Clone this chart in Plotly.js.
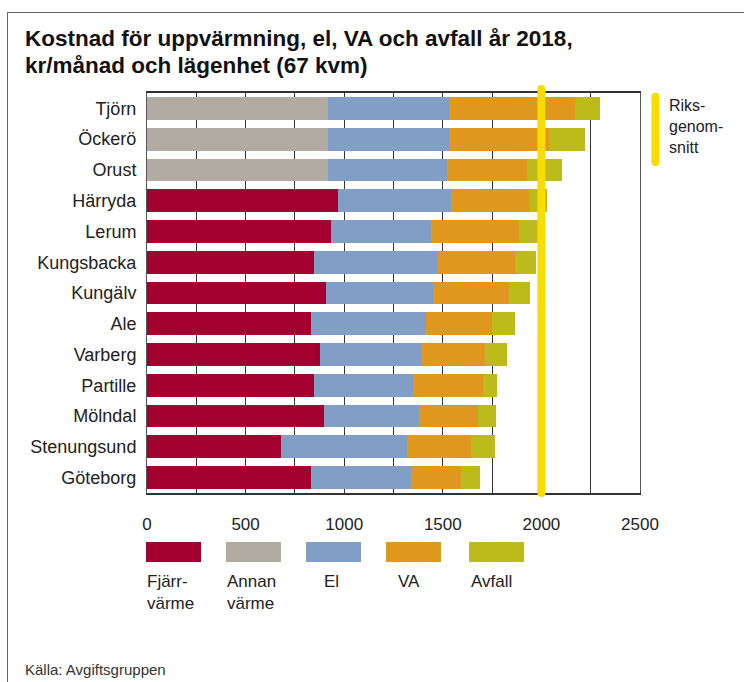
<!DOCTYPE html>
<html>
<head>
<meta charset="utf-8">
<script src="https://cdn.plot.ly/plotly-3.0.1.min.js"></script>
<style>
  html, body { margin: 0; padding: 0; background: #ffffff; }
  #frame { position: absolute; left: 7px; top: 12px; width: 900px; height: 900px;
           border-left: 1px solid #666; border-top: 1px solid #666; }
  #chart { position: absolute; left: 0; top: 0; width: 744px; height: 682px; }
</style>
</head>
<body>
<div id="frame"></div>
<div id="chart"></div>
<script>
// ---- data (kr/månad och lägenhet, 2018) ----
const categories = ['Tjörn','Öckerö','Orust','Härryda','Lerum','Kungsbacka','Kungälv','Ale','Varberg','Partille','Mölndal','Stenungsund','Göteborg'];
const fjarrvarme = [0, 0, 0, 967, 932, 846, 907, 831, 876, 846, 897, 679, 831];
const annanVarme = [917, 917, 917, 0, 0, 0, 0, 0, 0, 0, 0, 0, 0];
const el =         [612, 612, 605, 575, 509, 632, 541, 586, 521, 504, 484, 637, 506];
const va =         [642, 509, 406, 396, 447, 389, 389, 334, 318, 356, 300, 329, 253];
const avfall =     [126, 184, 175, 88, 100, 106, 106, 116, 111, 71, 91, 121, 101];
const riksgenomsnitt = 2000;
const xTicks = [0, 500, 1000, 1500, 2000, 2500];
const seriesNames = ['Fjärr-<br>värme', 'Annan<br>värme', 'El', 'VA', 'Avfall'];

const colors = ['#a3002f', '#b2aba2', '#819fc6', '#df981b', '#bdba1c'];
const yellow = '#f7dc00';
const FONT = 'Liberation Sans, Arial, sans-serif';

const seriesValues = [fjarrvarme, annanVarme, el, va, avfall];
const traces = seriesValues.map((vals, i) => ({
  type: 'bar', orientation: 'h', y: categories, x: vals,
  name: seriesNames[i].replace('<br>', ''), marker: { color: colors[i], line: { width: 0 } },
  hoverinfo: 'x+y'
}));

// Legend (drawn manually below the chart)
const legBoxX = [[-0.002, 0.1095], [0.1602, 0.2718], [0.3225, 0.4341], [0.4848, 0.5963], [0.6531, 0.7647]];
const legTextX = [-0.004, 0.158, 0.355, 0.505, 0.653];
const shapes = [];
const annotations = [];
legBoxX.forEach((bx, i) => {
  shapes.push({ type: 'rect', xref: 'paper', yref: 'paper', x0: bx[0], x1: bx[1], y0: -0.1225, y1: -0.1725,
    fillcolor: colors[i], line: { width: 0 } });
  annotations.push({ xref: 'paper', yref: 'paper', x: legTextX[i], y: -0.193, xanchor: 'left', yanchor: 'top',
    align: 'left', showarrow: false, text: seriesNames[i], font: { family: FONT, size: 17, color: '#222' } });
});

// Riksgenomsnitt line in the chart
const capX = 20.2, capY = 0.01;
shapes.push({ type: 'line', xref: 'x', yref: 'paper', x0: riksgenomsnitt, x1: riksgenomsnitt, y0: 0, y1: 1.01,
  line: { color: yellow, width: 8 }, layer: 'above' });
shapes.push({ type: 'circle', xref: 'x', yref: 'paper', x0: riksgenomsnitt - capX, x1: riksgenomsnitt + capX,
  y0: 1.01 - capY, y1: 1.01 + capY, fillcolor: yellow, line: { width: 0 }, layer: 'above' });
shapes.push({ type: 'circle', xref: 'x', yref: 'paper', x0: riksgenomsnitt - capX, x1: riksgenomsnitt + capX,
  y0: -capY, y1: capY, fillcolor: yellow, line: { width: 0 }, layer: 'above' });

// Riksgenomsnitt legend line
shapes.push({ type: 'line', xref: 'paper', yref: 'paper', x0: 1.0314, x1: 1.0314, y0: 0.8275, y1: 0.9907,
  line: { color: yellow, width: 8 } });
shapes.push({ type: 'circle', xref: 'paper', yref: 'paper', x0: 1.0314 - 0.0081, x1: 1.0314 + 0.0081,
  y0: 0.9907 - 0.01, y1: 0.9907 + 0.01, fillcolor: yellow, line: { width: 0 } });
shapes.push({ type: 'circle', xref: 'paper', yref: 'paper', x0: 1.0314 - 0.0081, x1: 1.0314 + 0.0081,
  y0: 0.8275 - 0.01, y1: 0.8275 + 0.01, fillcolor: yellow, line: { width: 0 } });
annotations.push({ xref: 'paper', yref: 'paper', x: 1.054, y: 0.995, xanchor: 'left', yanchor: 'top', align: 'left',
  showarrow: false, text: 'Riks-<br>genom-<br>snitt', font: { family: FONT, size: 16, color: '#222' } });

// Title lines
annotations.push({ xref: 'paper', yref: 'paper', x: -0.2525, y: 1.1375, xanchor: 'left', yanchor: 'middle',
  showarrow: false, text: '<b>Kostnad för uppvärmning, el, VA och avfall år 2018,</b>',
  font: { family: FONT, size: 22.5, color: '#111' } });
annotations.push({ xref: 'paper', yref: 'paper', x: -0.2525, y: 1.068, xanchor: 'left', yanchor: 'middle',
  showarrow: false, text: '<b>kr/månad och lägenhet (67 kvm)</b>',
  font: { family: FONT, size: 22.5, color: '#111' } });

// Source
annotations.push({ xref: 'paper', yref: 'paper', x: -0.2515, y: -0.44, xanchor: 'left', yanchor: 'middle',
  showarrow: false, text: 'Källa: Avgiftsgruppen', font: { family: FONT, size: 15, color: '#333' } });

const layout = {
  width: 744, height: 682,
  margin: { l: 147, r: 104, t: 93, b: 189, pad: 0 },
  paper_bgcolor: 'rgba(0,0,0,0)', plot_bgcolor: '#ffffff',
  barmode: 'stack', bargap: 0.26,
  showlegend: false,
  font: { family: FONT, color: '#222' },
  xaxis: {
    range: [0, 2500], tickvals: xTicks, ticktext: xTicks.map(String),
    showgrid: true, gridcolor: '#333', gridwidth: 1,
    minor: { dtick: 250, tick0: 0, showgrid: true, gridcolor: '#333', gridwidth: 1 },
    showline: true, linecolor: '#333', linewidth: 2, mirror: true,
    zeroline: false, ticks: '', ticklabelstandoff: 15,
    tickfont: { family: FONT, size: 17, color: '#222' }, fixedrange: true
  },
  yaxis: {
    type: 'category', autorange: 'reversed',
    showgrid: false, zeroline: false,
    showline: true, linecolor: '#555', linewidth: 1, mirror: true,
    ticks: '', ticklabelstandoff: 6,
    tickfont: { family: FONT, size: 18, color: '#222' },
    fixedrange: true
  },
  shapes: shapes,
  annotations: annotations
};

Plotly.newPlot('chart', traces, layout, { displayModeBar: false, staticPlot: true });
</script>
</body>
</html>
